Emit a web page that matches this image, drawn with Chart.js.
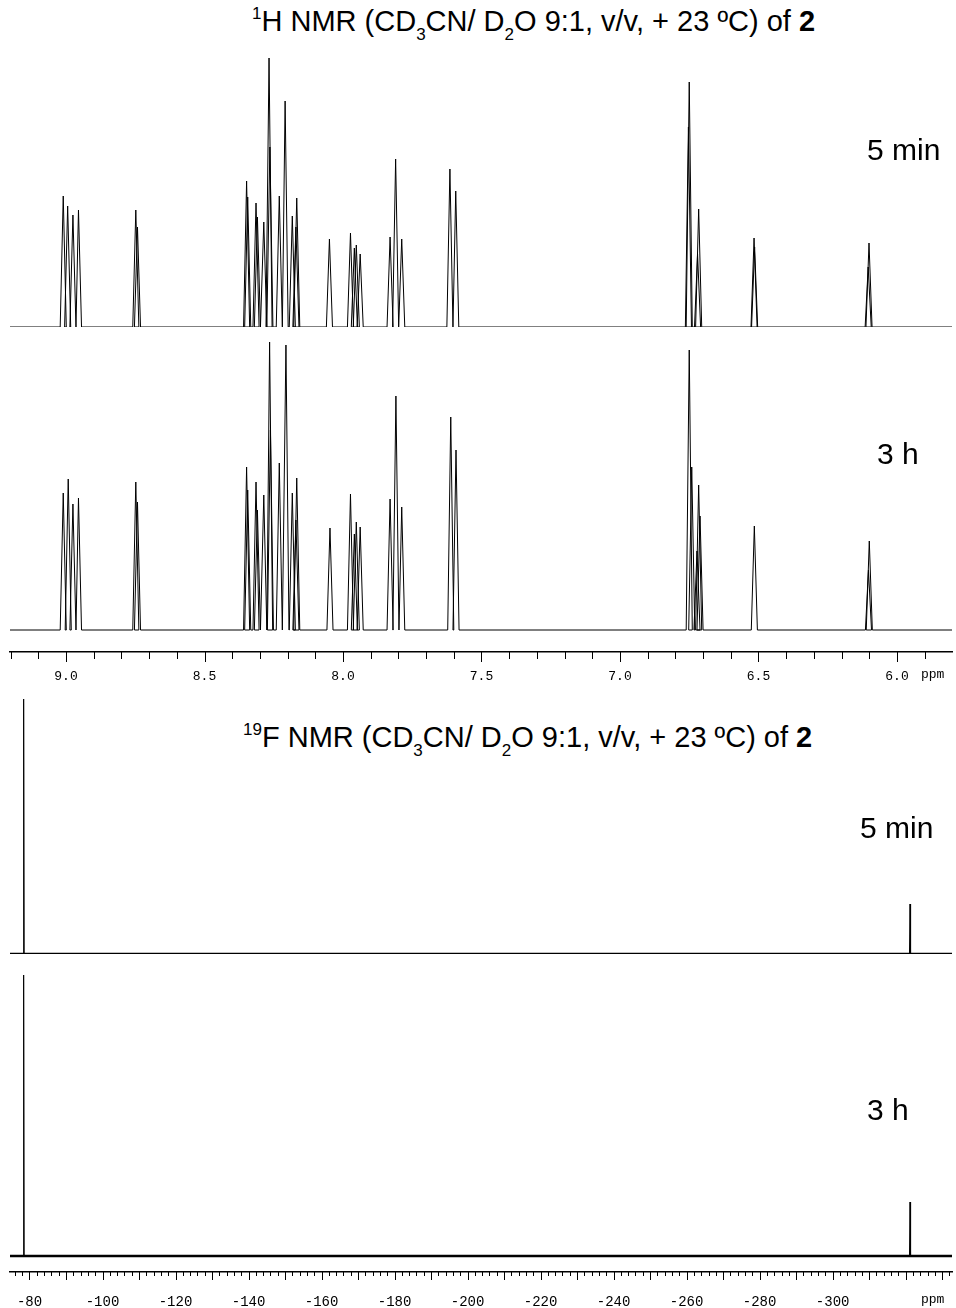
<!DOCTYPE html>
<html>
<head>
<meta charset="utf-8">
<script src="https://cdn.jsdelivr.net/npm/chart.js@4.4.1/dist/chart.umd.min.js"></script>
<style>
    body { margin: 0; background: #fff; width: 956px; height: 1308px; position: relative; overflow: hidden; font-family: "Liberation Sans", Arial, sans-serif; }
    canvas { position: absolute; left: 0; }
    .title { position: absolute; font-size: 29px; line-height: 34px; color: #000; white-space: nowrap; }
    .title sup, .title sub { font-size: 17px; line-height: 0; position: relative; vertical-align: baseline; }
    .title sup { top: -12px; }
    .title sub { top: 9px; }
    .lab { position: absolute; font-size: 30px; line-height: 34px; color: #000; }
    .ppm { position: absolute; font: 13px "Liberation Mono", monospace; color: #000; }
</style>
</head>
<body>
<div class="title" style="left:252px;top:4px"><sup>1</sup>H NMR (CD<sub>3</sub>CN/ D<sub>2</sub>O 9:1, v/v, + 23 ºC) of <b>2</b></div>
<div class="title" style="left:243px;top:720px"><sup>19</sup>F NMR (CD<sub>3</sub>CN/ D<sub>2</sub>O 9:1, v/v, + 23 ºC) of <b>2</b></div>

<canvas id="h5" width="956" height="340" style="top:0"></canvas>
<canvas id="h3" width="956" height="380" style="top:330px"></canvas>
<canvas id="f5" width="956" height="290" style="top:680px"></canvas>
<canvas id="f3" width="956" height="348" style="top:960px"></canvas>

<div class="lab" style="left:867px;top:133px">5 min</div>
<div class="lab" style="left:877px;top:437px">3 h</div>
<div class="lab" style="left:860px;top:811px">5 min</div>
<div class="lab" style="left:867px;top:1093px">3 h</div>
<div class="ppm" style="left:921px;top:667px">ppm</div>
<div class="ppm" style="left:921px;top:1292px">ppm</div>

<script>
// 1H, 5 min: peak shifts (ppm) and heights (px above baseline)
const h5Shift  = [9.010, 8.994, 8.975, 8.955, 8.748, 8.742, 8.348, 8.344, 8.314, 8.309, 8.286, 8.267, 8.264, 8.230, 8.209, 8.183, 8.170, 8.167,
                  8.049, 7.973, 7.959, 7.952, 7.938, 7.830, 7.810, 7.788, 7.614, 7.593, 6.753, 6.750, 6.720, 6.716, 6.516, 6.514, 6.104, 6.101];
const h5Height = [131, 121, 112, 117, 117, 100, 146, 130, 124, 110, 105, 269, 180, 131, 226, 111, 100, 129,
                  88, 94, 79, 82, 73, 90, 168, 88, 158, 136, 200, 245, 73, 118, 89, 80, 60, 84];

// 1H, 3 h
const h3Shift  = [9.010, 8.992, 8.975, 8.955, 8.748, 8.742, 8.348, 8.344, 8.314, 8.309, 8.286, 8.265, 8.262, 8.230, 8.206, 8.183, 8.170, 8.167,
                  8.047, 7.973, 7.959, 7.952, 7.938, 7.830, 7.809, 7.788, 7.611, 7.592, 6.750, 6.741, 6.722, 6.716, 6.711, 6.515, 6.103, 6.100];
const h3Height = [137, 151, 126, 132, 148, 128, 163, 140, 148, 120, 135, 288, 200, 167, 285, 137, 110, 152,
                  102, 136, 96, 108, 103, 131, 234, 123, 213, 180, 280, 163, 79, 145, 114, 104, 60, 89];

// 19F: two signals
const fShift   = [-78.4, -321.2];
const f5Height = [255, 50];
const f3Height = [281, 54];

// axis ranges and labelled ticks
const hRange = [5.8014, 9.2022];
const fRange = [-332.7, -74.66];
const hTickLabels = [9.0, 8.5, 8.0, 7.5, 7.0, 6.5, 6.0];
const fTickLabels = [-80, -100, -120, -140, -160, -180, -200, -220, -240, -260, -280, -300];

function spectrum(shift, height, range, w) {
    const order = shift.map((s, i) => i).sort((a, b) => shift[b] - shift[a]);
    const pts = [{ x: range[1], y: 0 }];
    order.forEach(i => {
        pts.push({ x: shift[i] + w, y: 0 }, { x: shift[i], y: height[i] }, { x: shift[i] - w, y: 0 });
    });
    pts.push({ x: range[0], y: 0 });
    return pts;
}

const tickMarks = {
    id: 'tickMarks',
    afterDraw(chart, args, o) {
        const s = chart.scales.x;
        if (!s.options.display) return;
        const ctx = chart.ctx;
        ctx.save();
        ctx.strokeStyle = '#000';
        ctx.lineWidth = 1;
        s.ticks.forEach(t => {
            const px = Math.round(s.getPixelForValue(t.value)) + 0.5;
            const r = t.value / o.major;
            const big = Math.abs(r - Math.round(r)) < 1e-6;
            ctx.beginPath();
            ctx.moveTo(px, s.top);
            ctx.lineTo(px, s.top + (big ? o.long : o.short));
            ctx.stroke();
        });
        ctx.restore();
    }
};

function trace(id, datasets, o) {
    new Chart(document.getElementById(id), {
        type: 'line',
        data: {
            datasets: datasets.map(d => ({
                data: d.data, borderColor: '#000', borderWidth: d.lw,
                pointRadius: 0, tension: 0, fill: false
            }))
        },
        options: {
            responsive: false,
            animation: false,
            events: [],
            layout: { padding: o.pad },
            plugins: {
                legend: { display: false },
                tooltip: { enabled: false },
                tickMarks: o.marks || {}
            },
            scales: {
                x: {
                    type: 'linear',
                    reverse: true,
                    min: o.range[0],
                    max: o.range[1],
                    display: !!o.axis,
                    grid: { display: false },
                    border: { display: true, color: '#000', width: 1.5 },
                    afterFit: s => {
                        s.height = o.axisH || 0;
                        s.paddingLeft = 0;
                        s.paddingRight = 0;
                    },
                    ticks: {
                        stepSize: o.step,
                        autoSkip: false,
                        maxRotation: 0,
                        includeBounds: false,
                        padding: o.tickPad,
                        color: '#000',
                        font: { family: "'Liberation Mono', monospace", size: o.fontSize || 13 },
                        callback: v => {
                            const hit = (o.labels || []).find(l => Math.abs(l - v) < 1e-6);
                            return hit === undefined ? '' : (o.fmt ? o.fmt(hit) : String(hit));
                        }
                    }
                },
                y: { display: false, min: o.ymin, max: o.ymax }
            }
        },
        plugins: [tickMarks]
    });
}

trace('h5', [{ data: spectrum(h5Shift, h5Height, hRange, 0.011), lw: 1 }], {
    range: hRange, pad: { left: 10, right: 4, top: 40, bottom: 13 }, ymin: 0, ymax: 287
});

trace('h3', [{ data: spectrum(h3Shift, h3Height, hRange, 0.011), lw: 1 }], {
    range: hRange, pad: { left: 10, right: 4, top: 10, bottom: 10 }, ymin: -22, ymax: 290,
    axis: true, axisH: 48, step: 0.1, tickPad: 9, labels: hTickLabels, fmt: v => v.toFixed(1),
    marks: { major: 0.5, long: 10, short: 7 }
});

trace('f5', [
    { data: spectrum(fShift, f5Height, fRange, 0.15), lw: 1 },
    { data: [{ x: fRange[1], y: 0 }, { x: fRange[0], y: 0 }], lw: 2.5 }
], {
    range: fRange, pad: { left: 10, right: 4, top: 10, bottom: 16 }, ymin: 0, ymax: 264
});

trace('f3', [
    { data: spectrum(fShift, f3Height, fRange, 0.15), lw: 1 },
    { data: [{ x: fRange[1], y: 0 }, { x: fRange[0], y: 0 }], lw: 2.5 }
], {
    range: fRange, pad: { left: 10, right: 4, top: 10, bottom: 0 }, ymin: -16, ymax: 286,
    axis: true, axisH: 36, step: 2, tickPad: 14, labels: fTickLabels, fontSize: 14,
    marks: { major: 10, long: 8, short: 4 }
});
</script>
</body>
</html>
